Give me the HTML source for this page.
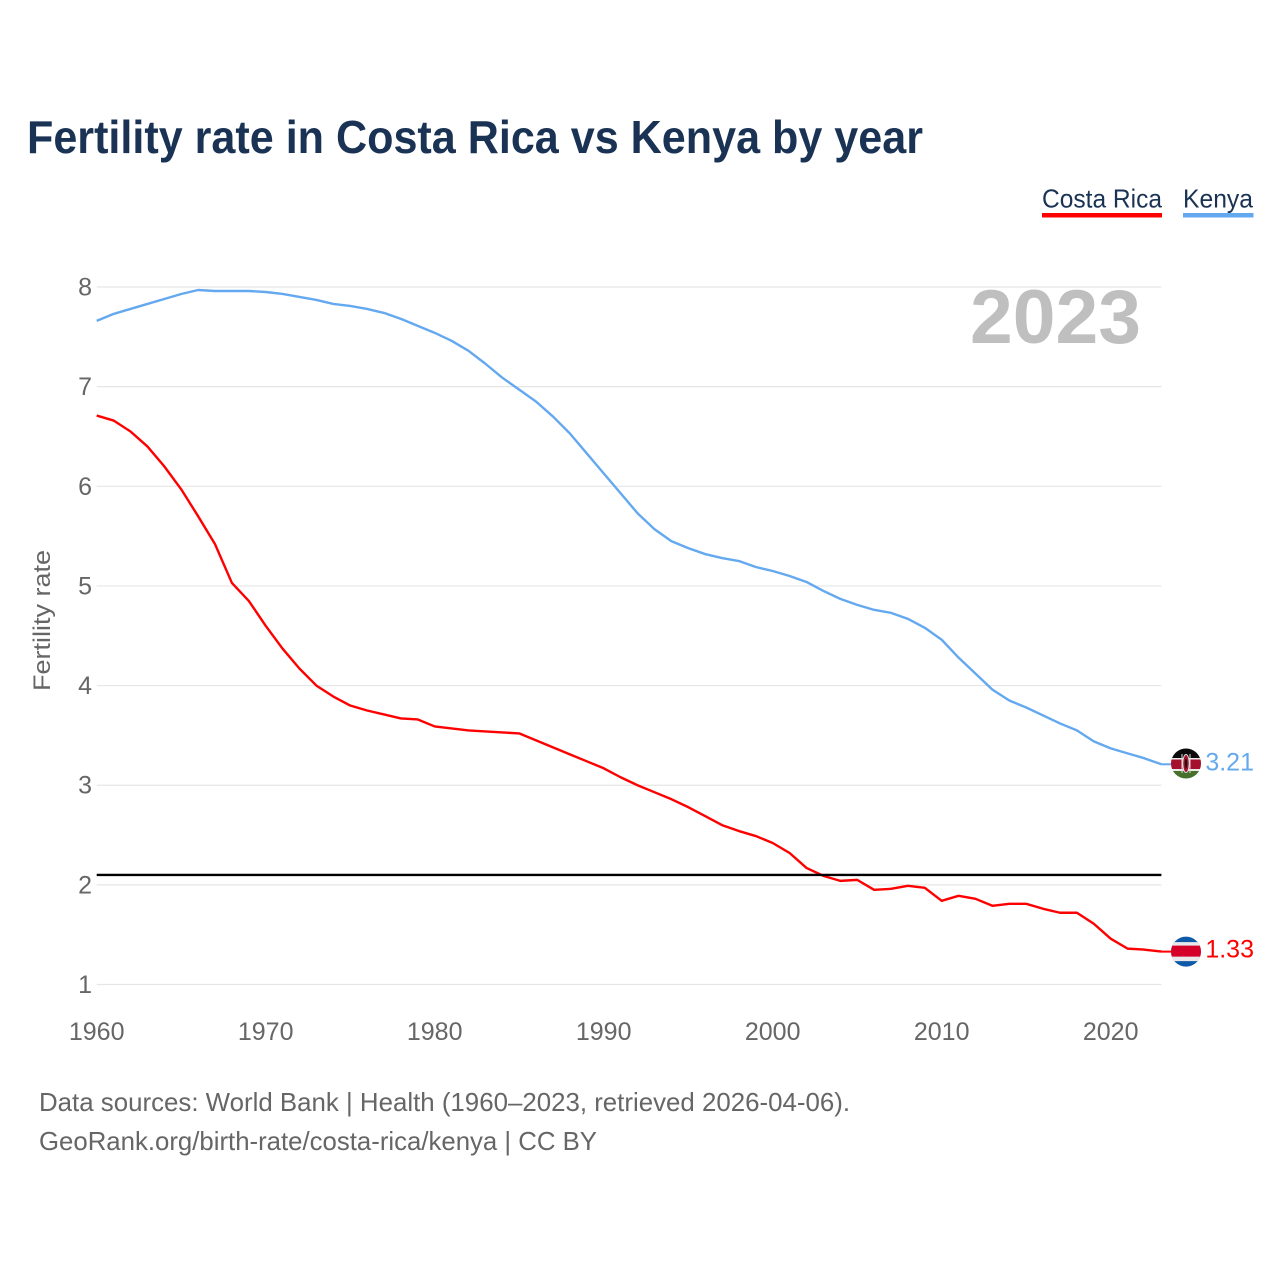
<!DOCTYPE html>
<html lang="en">
<head>
<meta charset="utf-8">
<title>Fertility rate in Costa Rica vs Kenya by year</title>
<style>
html,body{margin:0;padding:0;background:#fff;}
svg{display:block;font-family:"Liberation Sans",sans-serif;}
</style>
</head>
<body>
<svg id="chart" width="1280" height="1280" viewBox="0 0 1280 1280" xmlns="http://www.w3.org/2000/svg">
  <defs>
    <clipPath id="flag-clip-cr"><circle id="clip-cr" cx="1186" cy="951.5" r="15"></circle></clipPath>
    <clipPath id="flag-clip-ke"><circle id="clip-ke" cx="1186" cy="763.5" r="15"></circle></clipPath>
  </defs>
  <rect width="1280" height="1280" fill="#fff"></rect>
  <text x="27" y="153" font-size="46" font-weight="700" fill="#1a3354" textLength="896" lengthAdjust="spacingAndGlyphs">Fertility rate in Costa Rica vs Kenya by year</text>
  <g id="legend">
    <g>
      <text x="1042" y="207.5" font-size="26" fill="#1a3354" textLength="120" lengthAdjust="spacingAndGlyphs">Costa Rica</text>
      <rect x="1042" y="213" width="120" height="4.5" fill="#ff0000"></rect>
    </g>
    <g>
      <text x="1183" y="207.5" font-size="26" fill="#1a3354" textLength="70" lengthAdjust="spacingAndGlyphs">Kenya</text>
      <rect x="1183" y="213" width="70.5" height="4.5" fill="#64a9f0"></rect>
    </g>
  </g>
  <g id="grid"></g>
  <g id="y-ticks"></g>
  <g id="x-ticks"></g>
  <text transform="translate(50,691) rotate(-90)" font-size="24" fill="#666" textLength="141" lengthAdjust="spacingAndGlyphs">Fertility rate</text>
  <text id="year-label" x="970" y="343" font-size="76" font-weight="700" fill="#bfbfbf" textLength="171" lengthAdjust="spacingAndGlyphs">2023</text>
  <g id="series"></g>
  <line id="reference-line" stroke="#000" stroke-width="2.4"></line>
  <g id="flag-cr" clip-path="url(#flag-clip-cr)">
    <rect x="1170" y="936" width="32" height="32" fill="#0f5aa8"></rect>
    <rect x="1170" y="942" width="32" height="19" fill="#e9e9ec"></rect>
    <rect x="1170" y="945.5" width="32" height="11" fill="#d4002a"></rect>
  </g>
  <g id="flag-ke" clip-path="url(#flag-clip-ke)">
    <rect x="1170" y="748" width="32" height="11" fill="#0a0a0a"></rect>
    <rect x="1170" y="758" width="32" height="13" fill="#e9e9e9"></rect>
    <rect x="1170" y="759.5" width="32" height="9.5" fill="#a5102c"></rect>
    <rect x="1170" y="771" width="32" height="9" fill="#47702c"></rect>
    <line x1="1182" y1="754" x2="1182" y2="773" stroke="#ddd" stroke-width="1"></line>
    <line x1="1190" y1="754" x2="1190" y2="773" stroke="#ddd" stroke-width="1"></line>
    <ellipse cx="1186" cy="763.5" rx="3.2" ry="9" fill="#a5102c" stroke="#ddd" stroke-width="1"></ellipse>
    <ellipse cx="1186" cy="763.5" rx="1" ry="5" fill="#111"></ellipse>
  </g>
  <g id="end-labels"></g>
  <text x="39" y="1111" font-size="26" fill="#666" textLength="811" lengthAdjust="spacingAndGlyphs">Data sources: World Bank | Health (1960–2023, retrieved 2026-04-06).</text>
  <text x="39" y="1150" font-size="26" fill="#666" textLength="558" lengthAdjust="spacingAndGlyphs">GeoRank.org/birth-rate/costa-rica/kenya | CC BY</text>
</svg>
<script>
const years = [1960,1961,1962,1963,1964,1965,1966,1967,1968,1969,1970,1971,1972,1973,1974,1975,1976,1977,1978,1979,1980,1981,1982,1983,1984,1985,1986,1987,1988,1989,1990,1991,1992,1993,1994,1995,1996,1997,1998,1999,2000,2001,2002,2003,2004,2005,2006,2007,2008,2009,2010,2011,2012,2013,2014,2015,2016,2017,2018,2019,2020,2021,2022,2023];
const costaRicaValues = [6.71,6.66,6.55,6.40,6.20,5.97,5.70,5.42,5.03,4.85,4.60,4.37,4.17,4.00,3.89,3.80,3.75,3.71,3.67,3.66,3.59,3.57,3.55,3.54,3.53,3.52,3.45,3.38,3.31,3.24,3.17,3.08,3.00,2.93,2.86,2.78,2.69,2.60,2.54,2.49,2.42,2.32,2.17,2.09,2.04,2.05,1.95,1.96,1.99,1.97,1.84,1.89,1.86,1.79,1.81,1.81,1.76,1.72,1.72,1.61,1.46,1.36,1.35,1.33];
const kenyaValues = [7.66,7.73,7.78,7.83,7.88,7.93,7.97,7.96,7.96,7.96,7.95,7.93,7.90,7.87,7.83,7.81,7.78,7.74,7.68,7.61,7.54,7.46,7.36,7.23,7.09,6.97,6.85,6.70,6.53,6.33,6.13,5.93,5.73,5.57,5.45,5.38,5.32,5.28,5.25,5.19,5.15,5.10,5.04,4.95,4.87,4.81,4.76,4.73,4.67,4.58,4.46,4.28,4.12,3.96,3.85,3.78,3.70,3.62,3.55,3.44,3.37,3.32,3.27,3.21];
const yTickValues = [1,2,3,4,5,6,7,8];
const xTickValues = [1960,1970,1980,1990,2000,2010,2020];
const replacementRate = [2.1];

const SVG_NS = 'http://www.w3.org/2000/svg';
const xScale = function (year) { return 96.7 + (year - 1960) * 16.9; };
const yScale = function (value) { return 984.5 - (value - 1) * 99.64; };
const plotLeft = xScale(years[0]);
const plotRight = xScale(years[years.length - 1]);

function make(tag, parent, attrs, text) {
  const el = document.createElementNS(SVG_NS, tag);
  Object.keys(attrs).forEach(function (k) { el.setAttribute(k, attrs[k]); });
  if (text !== undefined) el.textContent = text;
  parent.appendChild(el);
  return el;
}

const gridGroup = document.getElementById('grid');
const yTickGroup = document.getElementById('y-ticks');
yTickValues.forEach(function (v) {
  const gridLine = make('line', gridGroup, {x1: plotLeft, x2: plotRight, y1: yScale(v), y2: yScale(v), stroke: '#e6e6e6', 'stroke-width': 1.2});
  
  
  const yLabel = make('text', yTickGroup, {x: 92, y: yScale(v) + 8.5, 'font-size': 25, fill: '#666', 'text-anchor': 'end'}, String(v));
  
  
});

const xTickGroup = document.getElementById('x-ticks');
xTickValues.forEach(function (year) {
  const xLabel = make('text', xTickGroup, {x: xScale(year), y: 1040, 'font-size': 25, fill: '#666', 'text-anchor': 'middle'}, String(year));
  
  
});

const seriesGroup = document.getElementById('series');
const labelGroup = document.getElementById('end-labels');
function drawSeries(values, color, key, flagId, clipId, flagCenter) {
  const pts = values.map(function (v, i) { return xScale(years[i]).toFixed(2) + ',' + yScale(v).toFixed(2); }).join(' ');
  const line = make('polyline', seriesGroup, {points: pts, fill: 'none', stroke: color, 'stroke-width': 2.4, 'stroke-linejoin': 'round'});
  
  
  const last = values[values.length - 1];
  const endY = yScale(last);
  const tail = make('line', seriesGroup, {x1: plotRight, x2: 1172, y1: endY, y2: endY, stroke: color, 'stroke-width': 2});
  
  
  const dy = endY - flagCenter;
  document.getElementById(flagId).setAttribute('transform', 'translate(0,' + dy.toFixed(2) + ')');
  const label = make('text', labelGroup, {x: 1254, y: endY + 6, 'font-size': 25, fill: color, 'text-anchor': 'end'}, last.toFixed(2));
  
  
}
drawSeries(kenyaValues, '#64a9f0', 'kenya', 'flag-ke', 'clip-ke', 764.3);
drawSeries(costaRicaValues, '#ff0000', 'costa-rica', 'flag-cr', 'clip-cr', 951.5);

const refLine = document.getElementById('reference-line');
refLine.setAttribute('x1', plotLeft);
refLine.setAttribute('x2', plotRight);
refLine.setAttribute('y1', yScale(replacementRate[0]));
refLine.setAttribute('y2', yScale(replacementRate[0]));
</script>
</body>
</html>
